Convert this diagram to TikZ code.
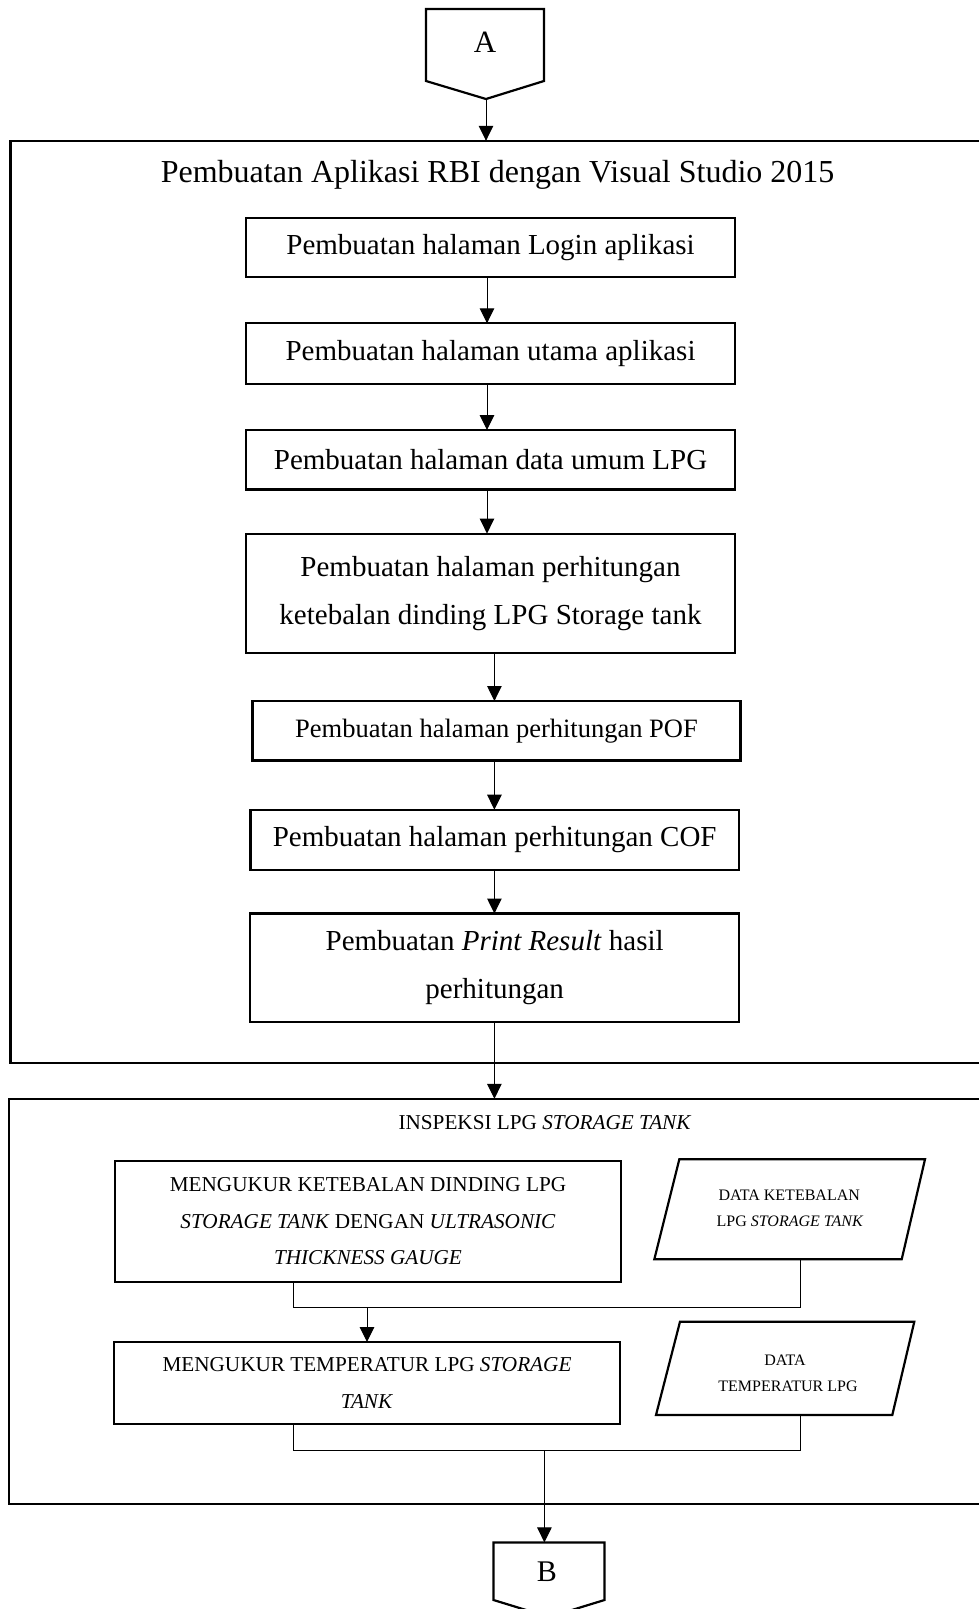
\documentclass[tikz,border=0pt]{standalone}
\usepackage{fontspec}
\setmainfont{Liberation Serif}
\usetikzlibrary{arrows.meta,calc}
\begin{document}
\begin{tikzpicture}[x=1pt,y=-1pt,
  fbox/.style={draw, line width=2.2pt, inner sep=0pt, outer sep=0pt, align=center},
  bigbox/.style={draw, line width=2.4pt, inner sep=0pt, outer sep=0pt},
  conn/.style={line width=1pt},
  arr/.style={line width=1pt, -{Triangle[length=15pt,width=14.5pt]}},
  shapeline/.style={line width=2.2pt, line join=miter},
  fbig/.style={font=\fontsize{29}{48.4}\selectfont},
  fmid/.style={font=\fontsize{26.5}{40}\selectfont},
  fsmall/.style={font=\fontsize{21.2}{36.4}\selectfont},
  ftiny/.style={font=\fontsize{16}{26.7}\selectfont},
]
\useasboundingbox (0,0) rectangle (979,1609);
\clip (0,0) rectangle (979,1609);

% connector A
\node[anchor=base, font=\fontsize{31}{37}\selectfont] (A) at (485,52) {A};
\coordinate (Atip) at (486,99);
\draw[shapeline] (426,9) -- (544,9) -- (544,81) -- (Atip) -- (426,81) -- cycle;

% big frame 1
\node[bigbox, minimum width=989.7pt, minimum height=922pt] (big1) at (505.15,601.8) {};
\node[anchor=base, font=\fontsize{32}{38}\selectfont] (t1) at (497.6,182.5) {Pembuatan Aplikasi RBI dengan Visual Studio 2015};

\node[fbox, fbig, minimum width=488.5pt, minimum height=59.5pt] (b1) at (490.55,247.35) {Pembuatan halaman Login aplikasi};
\node[fbox, fbig, minimum width=488.5pt, minimum height=60.5pt] (b2) at (490.55,353.55) {Pembuatan halaman utama aplikasi};
\node[fbox, fbig, minimum width=488.5pt, minimum height=59.5pt] (b3) at (490.55,459.75) {Pembuatan halaman data umum LPG};
\node[fbox, fbig, minimum width=489pt, minimum height=119.7pt] (b4) at (490.5,593.45) {Pembuatan halaman perhitungan\\ketebalan dinding LPG Storage tank};
\node[fbox, fmid, minimum width=488pt, minimum height=59.5pt] (b5) at (496.5,730.75) {Pembuatan halaman perhitungan POF};
\node[fbox, fbig, minimum width=488.5pt, minimum height=60.5pt] (b6) at (494.65,839.95) {Pembuatan halaman perhitungan COF};
\node[fbox, fbig, minimum width=488.8pt, minimum height=108.5pt] (b7) at (494.7,967.75) {Pembuatan \textit{Print Result} hasil\\perhitungan};

% big frame 2
\node[bigbox, minimum width=990.8pt, minimum height=405.4pt] (big2) at (504.6,1301.5) {};
\node[anchor=base, font=\fontsize{21.2}{25}\selectfont] (t2) at (545,1129.5) {INSPEKSI LPG \textit{STORAGE TANK}};

\node[fbox, fsmall, minimum width=506pt, minimum height=120.7pt] (b8) at (368,1221.35) {MENGUKUR KETEBALAN DINDING LPG\\\textit{STORAGE TANK} DENGAN \textit{ULTRASONIC}\\\textit{THICKNESS GAUGE}};
\node[fbox, fsmall, minimum width=506pt, minimum height=82.3pt] (b9) at (367,1383.15) {MENGUKUR TEMPERATUR LPG \textit{STORAGE}\\\textit{TANK}};

% data parallelograms
\draw[shapeline] (679.3,1159.3) -- (925,1159.3) -- (901.7,1259.3) -- (654.3,1259.3) -- cycle;
\coordinate (p1b) at (800,1259.3);
\node[anchor=base, ftiny] (p1a) at (789.2,1200) {DATA KETEBALAN};
\node[anchor=base, ftiny] (p1c) at (790,1226.7) {LPG \textit{STORAGE TANK}};

\draw[shapeline] (680,1321.7) -- (914.3,1321.7) -- (892.3,1415) -- (656,1415) -- cycle;
\coordinate (p2b) at (800,1415);
\node[anchor=base, ftiny] (p2a) at (785,1365.7) {DATA};
\node[anchor=base, ftiny] (p2c) at (788,1391) {TEMPERATUR LPG};

% connector B
\node[anchor=base, font=\fontsize{30}{36}\selectfont] (B) at (546.8,1581.7) {B};
\coordinate (Btop) at (544.4,1542.4);
\draw[shapeline] (493.5,1542.4) -- (604.5,1542.4) -- (604.5,1600) -- (549,1617) -- (493.5,1600) -- cycle;

% arrows
\coordinate (ax) at (487,0);
\coordinate (bx) at (494.4,0);
\draw[arr] (Atip) -- (Atip |- big1.north);
\draw[arr] (b1.south -| ax) -- (b2.north -| ax);
\draw[arr] (b2.south -| ax) -- (b3.north -| ax);
\draw[arr] (b3.south -| ax) -- (b4.north -| ax);
\draw[arr] (b4.south -| bx) -- (b5.north -| bx);
\draw[arr] (b5.south -| bx) -- (b6.north -| bx);
\draw[arr] (b6.south -| bx) -- (b7.north -| bx);
\draw[arr] (b7.south -| bx) -- (big2.north -| bx);

\coordinate (j1) at (293.3,1307.3);
\draw[conn] (j1 |- b8.south) -- (j1) -- (j1 -| p1b) -- (p1b);
\draw[arr] (b9.north |- j1) -- (b9.north);

\coordinate (j2) at (293.3,1450);
\draw[conn] (j2 |- b9.south) -- (j2) -- (j2 -| p2b) -- (p2b);
\draw[arr] (Btop |- j2) -- (Btop);
\end{tikzpicture}
\end{document}
